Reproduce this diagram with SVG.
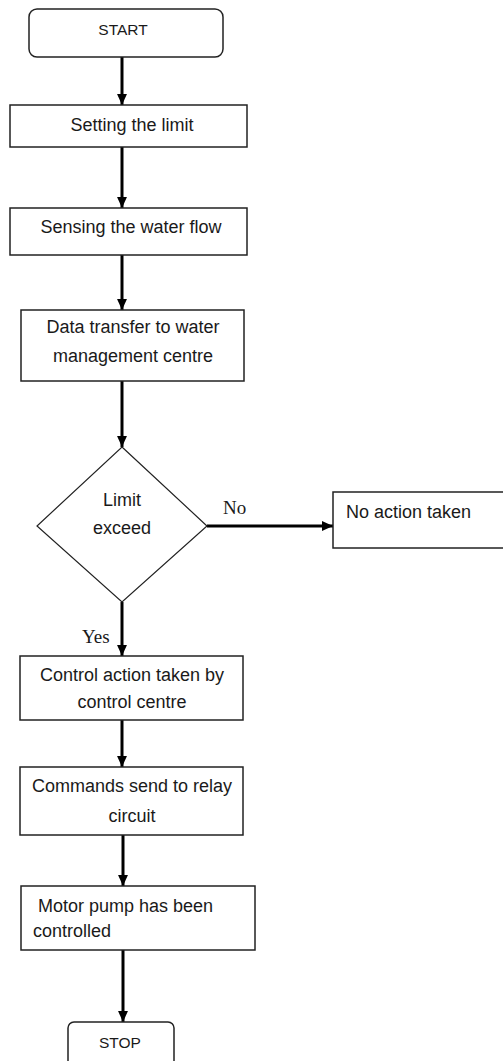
<svg xmlns="http://www.w3.org/2000/svg" width="503" height="1061" viewBox="0 0 503 1061">
<style>
.box{fill:#fff;stroke:#222;stroke-width:1.5}
.t{font-family:"Liberation Sans",Arial,sans-serif;font-size:18px;fill:#1a1a1a}
.c{text-anchor:middle}
.s{font-family:"Liberation Serif","Times New Roman",serif;font-size:19px;fill:#1a1a1a}
.e{stroke:#000;stroke-width:3;fill:none;marker-end:url(#ah)}
</style>
<defs>
<marker id="ah" viewBox="0 0 10 10" refX="10" refY="5" markerWidth="11" markerHeight="11" markerUnits="userSpaceOnUse" orient="auto">
<path d="M0,0.5 L10,5 L0,9.5 z" fill="#000"/>
</marker>
</defs>
<rect width="503" height="1061" fill="#fff"/>
<g id="connectors">
<path class="e" d="M122,57 V105"/>
<path class="e" d="M122,147 V208"/>
<path class="e" d="M122,255 V310"/>
<path class="e" d="M122,381 V447"/>
<path class="e" d="M207,526 H333"/>
<path class="e" d="M122,602 V656"/>
<path class="e" d="M122,720 V767"/>
<path class="e" d="M123,835 V886"/>
<path class="e" d="M123,950 V1022"/>
</g>
<g id="start"><rect class="box" x="29" y="9" width="194" height="48" rx="8"/><text class="t c" x="123" y="35" style="font-size:15.5px">START</text></g>
<g id="setting"><rect class="box" x="10" y="105" width="237" height="42"/><text class="t c" x="132" y="131">Setting the limit</text></g>
<g id="sensing"><rect class="box" x="10" y="208" width="237" height="47"/><text class="t c" x="131" y="233">Sensing the water flow</text></g>
<g id="datatransfer"><rect class="box" x="21" y="310" width="223" height="71"/><text class="t c" x="133" y="333">Data transfer to water</text><text class="t c" x="133" y="362">management centre</text></g>
<g id="decision"><path class="box" d="M122,447 L207,526 L122,602 L37,526 Z" style="stroke-width:1.2"/><text class="t c" x="122" y="506">Limit</text><text class="t c" x="122" y="534">exceed</text></g>
<text class="s" x="223" y="514">No</text>
<g id="noaction"><rect class="box" x="333" y="492" width="180" height="56"/><text class="t" x="346" y="518">No action taken</text></g>
<text class="s" x="82" y="643">Yes</text>
<g id="control"><rect class="box" x="20" y="656" width="223" height="64"/><text class="t c" x="132" y="681">Control action taken by</text><text class="t c" x="132" y="708">control centre</text></g>
<g id="commands"><rect class="box" x="20" y="767" width="223" height="68"/><text class="t c" x="132" y="792">Commands send to relay</text><text class="t c" x="132" y="822">circuit</text></g>
<g id="motor"><rect class="box" x="21" y="886" width="234" height="64"/><text class="t" x="38" y="912">Motor pump has been</text><text class="t" x="33" y="937">controlled</text></g>
<g id="stop"><rect class="box" x="68" y="1022" width="106" height="50" rx="6"/><text class="t c" x="120" y="1048" style="font-size:15.5px">STOP</text></g>
</svg>
